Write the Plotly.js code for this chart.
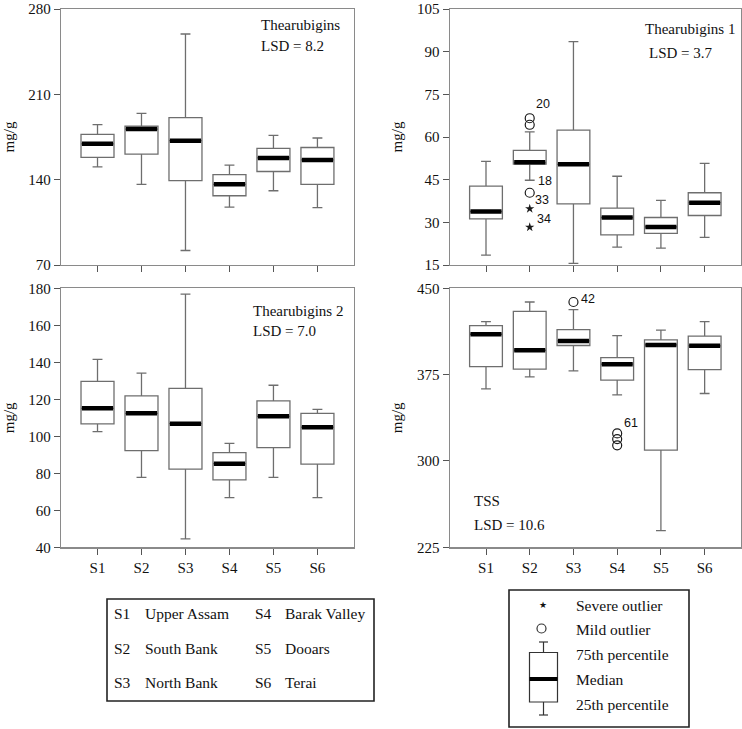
<!DOCTYPE html>
<html>
<head>
<meta charset="utf-8">
<script src="https://cdn.plot.ly/plotly-3.0.1.min.js"></script>
<style>html,body{margin:0;padding:0;background:#fff;}#chart{width:742px;height:729px;}</style>
</head>
<body>
<div id="chart"></div>
<script>
// ---------- DATA ----------
const sites = ["S1", "S2", "S3", "S4", "S5", "S6"];
const sitePos = [1, 2, 3, 4, 5, 6];
const siteNames = ["Upper Assam", "South Bank", "North Bank", "Barak Valley", "Dooars", "Terai"];

// Thearubigins (top-left)
const tr_low = [150.5, 136.2, 81.9, 117.4, 130.9, 117.1];
const tr_q1  = [158.3, 161.0, 139.2, 126.8, 146.7, 136.2];
const tr_med = [169.4, 181.5, 172.0, 136.2, 157.8, 156.2];
const tr_q3  = [177.2, 183.9, 190.9, 144.1, 165.6, 166.4];
const tr_high= [185.2, 194.4, 259.5, 151.9, 176.4, 174.2];

// Thearubigins 1 (top-right)
const tr1_low = [18.5, 44.8, 15.6, 21.3, 20.9, 24.7];
const tr1_q1  = [31.2, 50.5, 36.5, 25.6, 26.1, 32.4];
const tr1_med = [33.8, 51.1, 50.4, 31.7, 28.4, 36.9];
const tr1_q3  = [42.7, 55.3, 62.4, 35.0, 31.7, 40.4];
const tr1_high= [51.4, 61.8, 93.5, 46.2, 37.7, 50.7];
const tr1_mildX = [2, 2, 2];
const tr1_mildY = [66.6, 64.3, 40.4];
const tr1_sevX = [2, 2];
const tr1_sevY = [34.8, 28.3];
const tr1_labels = ["20", "18", "33", "34"];

// Thearubigins 2 (bottom-left)
const tr2_low = [102.5, 77.8, 44.5, 66.8, 77.8, 66.8];
const tr2_q1  = [106.7, 92.3, 82.3, 76.4, 93.9, 85.0];
const tr2_med = [115.1, 112.4, 106.8, 85.2, 110.8, 104.9];
const tr2_q3  = [129.7, 121.8, 125.9, 91.2, 119.1, 112.4];
const tr2_high= [141.6, 134.2, 176.8, 96.2, 127.6, 114.6];

// TSS (bottom-right)
const tss_low = [362.7, 373.1, 378.3, 357.5, 239.5, 358.6];
const tss_q1  = [382.0, 379.7, 400.3, 370.2, 309.5, 379.4];
const tss_med = [410.1, 396.2, 404.3, 384.1, 400.8, 400.0];
const tss_q3  = [417.6, 430.0, 414.1, 389.8, 405.2, 408.4];
const tss_high= [421.1, 438.1, 431.5, 408.9, 413.6, 421.1];
const tss_mildX = [3, 4, 4, 4];
const tss_mildY = [438.1, 323.9, 319.0, 313.6];
const tss_labels = ["42", "61"];

// ---------- STYLE ----------
const W = 742, H = 729;
const px = v => v / W;
const py = v => 1 - v / H;
const serif = "Liberation Serif";
const sans = "Liberation Sans";
const boxColor = "#6e6e6e";
const boxWidth = 0.75;

function boxTrace(low, q1, med, q3, high, ax) {
  return {
    type: "box", x: sitePos, q1: q1, median: med, q3: q3,
    lowerfence: low, upperfence: high,
    xaxis: "x" + ax, yaxis: "y" + ax,
    width: boxWidth, whiskerwidth: 0.3, boxpoints: false,
    fillcolor: "white", line: { color: boxColor, width: 1.3 },
    hoverinfo: "skip", showlegend: false
  };
}
function medianTrace(med, ax) {
  const xs = [], ys = [];
  sitePos.forEach((p, i) => {
    xs.push(p - boxWidth / 2 + 0.02, p + boxWidth / 2 - 0.02, null);
    ys.push(med[i], med[i], null);
  });
  return {
    type: "scatter", mode: "lines", x: xs, y: ys,
    xaxis: "x" + ax, yaxis: "y" + ax,
    line: { color: "black", width: 4.5 }, hoverinfo: "skip", showlegend: false
  };
}
function pointTrace(xs, ys, ax, symbol, size, lw) {
  return {
    type: "scatter", mode: "markers", x: xs, y: ys,
    xaxis: "x" + ax, yaxis: "y" + ax,
    marker: { symbol: symbol, size: size, color: "#1a1a1a", line: { color: "#1a1a1a", width: lw } },
    hoverinfo: "skip", showlegend: false
  };
}

const data = [
  boxTrace(tr_low, tr_q1, tr_med, tr_q3, tr_high, ""),
  medianTrace(tr_med, ""),
  boxTrace(tr1_low, tr1_q1, tr1_med, tr1_q3, tr1_high, "2"),
  medianTrace(tr1_med, "2"),
  pointTrace(tr1_mildX, tr1_mildY, "2", "circle-open", 9, 1.2),
  pointTrace(tr1_sevX, tr1_sevY, "2", "star", 7, 0),
  boxTrace(tr2_low, tr2_q1, tr2_med, tr2_q3, tr2_high, "3"),
  medianTrace(tr2_med, "3"),
  boxTrace(tss_low, tss_q1, tss_med, tss_q3, tss_high, "4"),
  medianTrace(tss_med, "4"),
  pointTrace(tss_mildX, tss_mildY, "4", "circle-open", 9, 1.2)
];

const tickFont = { family: serif, size: 15, color: "#111" };
function xAxis(domain, anchor, labels) {
  return {
    domain: domain, anchor: anchor, range: [0.17, 6.82],
    tickmode: "array", tickvals: sitePos, ticktext: sites,
    showticklabels: labels, ticks: "outside", ticklen: 6, tickcolor: "#555", tickwidth: 1,
    showline: true, mirror: true, linecolor: "#8a8a8a", linewidth: 1.2,
    showgrid: false, zeroline: false, tickfont: tickFont, fixedrange: true,
    ticklabeloverflow: "allow"
  };
}
function yAxis(domain, anchor, range, dtick) {
  return {
    domain: domain, anchor: anchor, range: range, tick0: range[0], dtick: dtick,
    ticks: "outside", ticklen: 6, tickcolor: "#555", tickwidth: 1,
    showline: true, mirror: true, linecolor: "#8a8a8a", linewidth: 1.2,
    showgrid: false, zeroline: false, tickfont: tickFont, fixedrange: true,
    ticklabeloverflow: "allow",
    title: { text: "mg/g", font: { family: serif, size: 15, color: "#111" }, standoff: 10 }
  };
}

const dxL = [px(61), px(353.5)], dxR = [px(449.7), px(740.5)];
const dyT = [py(265), py(9)], dyB = [py(547.3), py(288.3)];

function ann(text, x, y, font, extra) {
  return Object.assign({ text: text, x: px(x), y: py(y), xref: "paper", yref: "paper",
    xanchor: "left", yanchor: "middle", showarrow: false, font: font }, extra || {});
}
const annFont = { family: serif, size: 15, color: "#111" };
const lblFont = { family: sans, size: 12.5, color: "#111" };
const legFont = { family: serif, size: 15.5, color: "#111" };

const annotations = [
  ann("Thearubigins", 259, 25, annFont),
  ann("LSD = 8.2", 259, 46, annFont),
  ann("Thearubigins 1", 643, 29, annFont),
  ann("LSD = 3.7", 646.5, 53, annFont),
  ann("Thearubigins 2", 250.5, 311, annFont),
  ann("LSD = 7.0", 250.5, 330.5, annFont),
  ann("TSS", 472, 500.5, annFont),
  ann("LSD = 10.6", 472, 525, annFont),
  ann(tr1_labels[0], 534, 104, lblFont),
  ann(tr1_labels[1], 536, 181, lblFont),
  ann(tr1_labels[2], 533, 200, lblFont),
  ann(tr1_labels[3], 534.5, 219, lblFont),
  ann(tss_labels[0], 579, 299, lblFont),
  ann(tss_labels[1], 622, 423, lblFont)
];
// left legend (site names)
const rowsY = [613, 648, 682];
for (let i = 0; i < 3; i++) {
  annotations.push(ann(sites[i], 112, rowsY[i], legFont));
  annotations.push(ann(siteNames[i], 143, rowsY[i], legFont));
  annotations.push(ann(sites[i + 3], 253, rowsY[i], legFont));
  annotations.push(ann(siteNames[i + 3], 283, rowsY[i], legFont));
}
// right legend (symbols)
annotations.push(ann("★", 536.5, 605, { family: "DejaVu Sans", size: 9, color: "#111" }));
annotations.push(ann("Severe outlier", 574, 605, legFont));
annotations.push(ann("Mild outlier", 574, 629, legFont));
annotations.push(ann("75th percentile", 574, 654, legFont));
annotations.push(ann("Median", 574, 679, legFont));
annotations.push(ann("25th percentile", 574, 704, legFont));

const lineDark = { color: "#222", width: 1.6 };
const iconLine = { color: "#333", width: 1.2 };
const shapes = [
  { type: "rect", xref: "paper", yref: "paper", x0: px(107), x1: px(374), y0: py(701), y1: py(599), line: lineDark, fillcolor: "rgba(0,0,0,0)" },
  { type: "rect", xref: "paper", yref: "paper", x0: px(509), x1: px(689), y0: py(727), y1: py(590), line: lineDark, fillcolor: "rgba(0,0,0,0)" },
  { type: "circle", xref: "paper", yref: "paper", x0: px(537), x1: px(546), y0: py(633), y1: py(624), line: iconLine },
  { type: "rect", xref: "paper", yref: "paper", x0: px(529.5), x1: px(557.5), y0: py(702), y1: py(652.5), line: iconLine },
  { type: "line", xref: "paper", yref: "paper", x0: px(529.5), x1: px(557.5), y0: py(679), y1: py(679), line: { color: "black", width: 4 } },
  { type: "line", xref: "paper", yref: "paper", x0: px(543.5), x1: px(543.5), y0: py(652.5), y1: py(642), line: iconLine },
  { type: "line", xref: "paper", yref: "paper", x0: px(543.5), x1: px(543.5), y0: py(702), y1: py(715), line: iconLine },
  { type: "line", xref: "paper", yref: "paper", x0: px(539), x1: px(548), y0: py(642), y1: py(642), line: iconLine },
  { type: "line", xref: "paper", yref: "paper", x0: px(539), x1: px(548), y0: py(715), y1: py(715), line: iconLine }
];

const layout = {
  width: W, height: H,
  margin: { l: 0, r: 0, t: 0, b: 0 },
  paper_bgcolor: "white", plot_bgcolor: "white",
  showlegend: false,
  xaxis: xAxis(dxL, "y", false),
  yaxis: yAxis(dyT, "x", [70, 280], 70),
  xaxis2: xAxis(dxR, "y2", false),
  yaxis2: yAxis(dyT, "x2", [15, 105], 15),
  xaxis3: xAxis(dxL, "y3", true),
  yaxis3: yAxis(dyB, "x3", [40, 180], 20),
  xaxis4: xAxis(dxR, "y4", true),
  yaxis4: yAxis(dyB, "x4", [225, 450], 75),
  annotations: annotations,
  shapes: shapes
};

Plotly.newPlot("chart", data, layout, { displayModeBar: false, staticPlot: true });
</script>
</body>
</html>
